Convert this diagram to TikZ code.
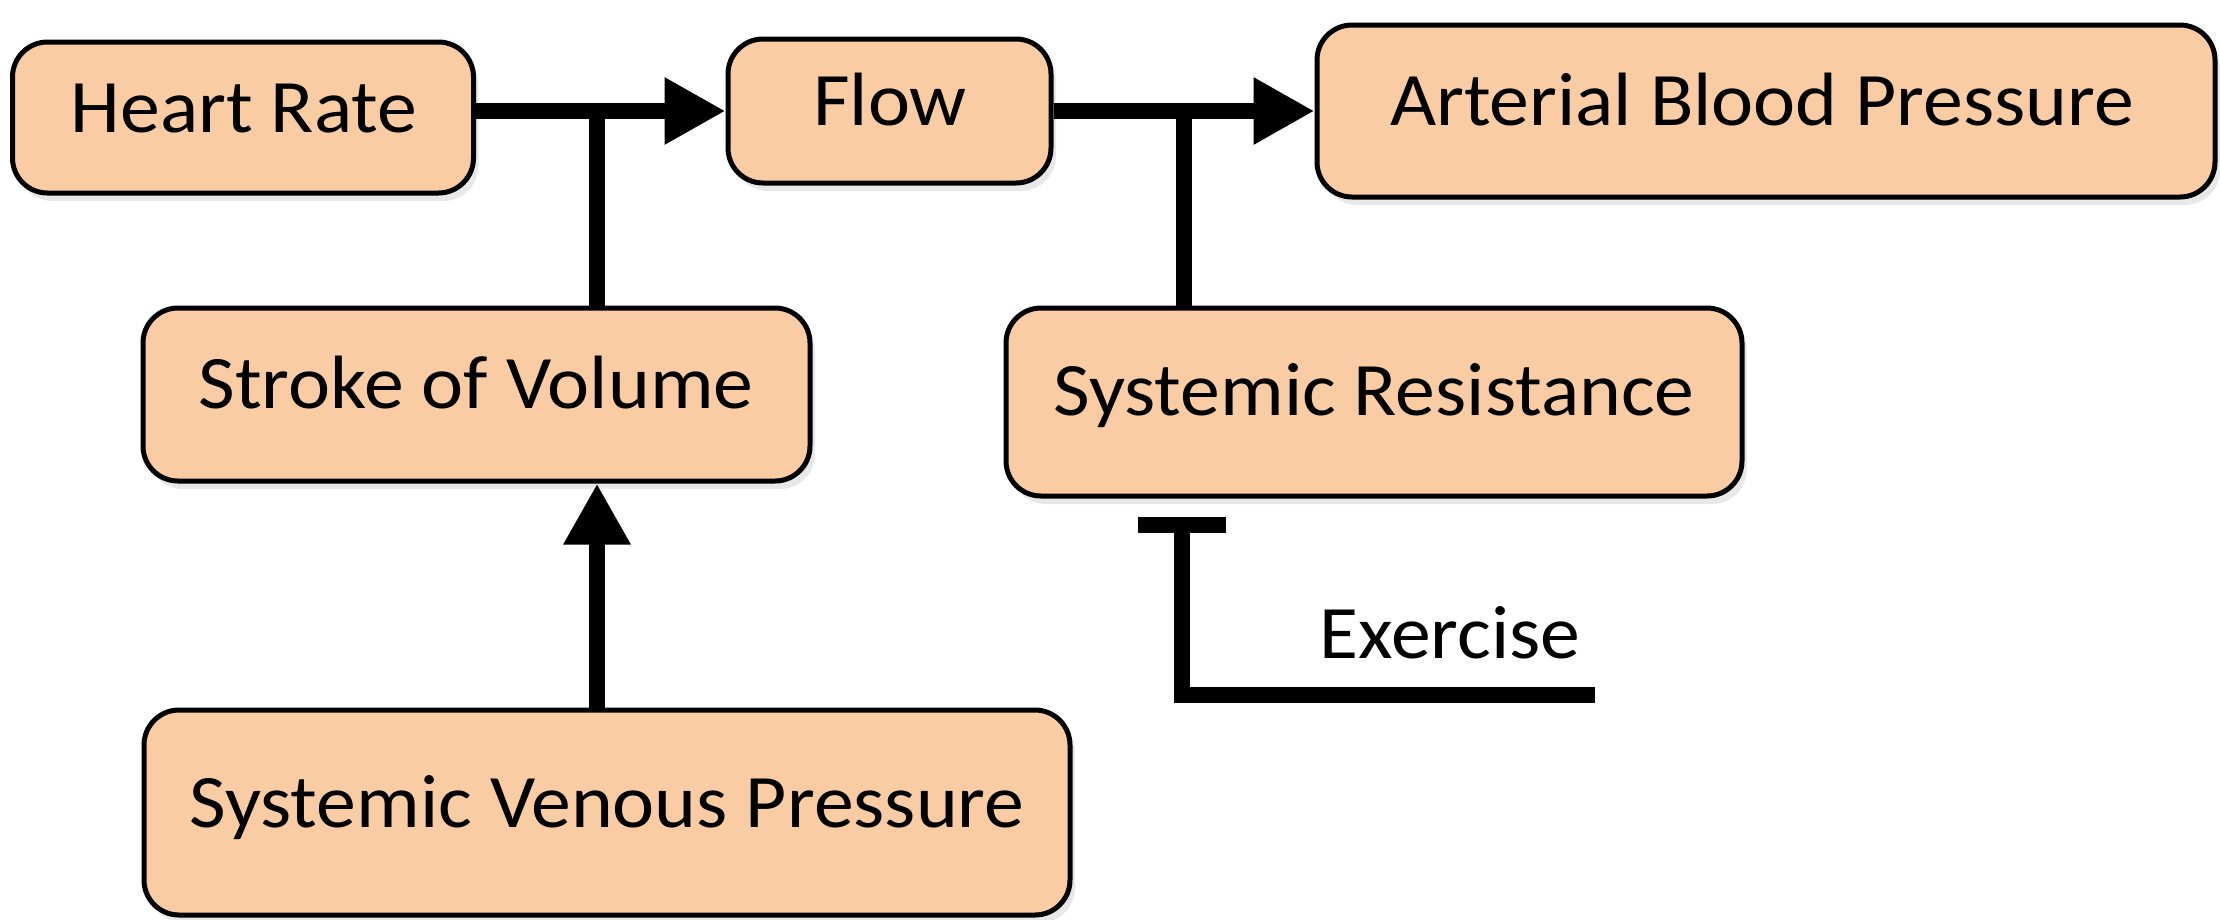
\documentclass[tikz,border=0pt]{standalone}
\usepackage{fontspec}
\setmainfont[FakeStretch=1.055]{Carlito}
\usetikzlibrary{arrows.meta,shadows}
\definecolor{peach}{RGB}{250,204,164}
\begin{document}
\begin{tikzpicture}[x=0.1mm,y=-0.1mm,
  box/.style={draw=black, line width=0.5mm, fill=peach, rounded corners=3.5mm, inner sep=0pt,
    drop shadow={opacity=0.18, shadow xshift=0.5mm, shadow yshift=-0.8mm}},
  lbl/.style={font=\fontsize{21.5}{26}\selectfont, inner sep=0pt, anchor=base},
  conn/.style={line width=1.6mm},
  arr/.style={conn, -{Triangle[length=6.1mm,width=6.3mm]}}]
\useasboundingbox (0,0) rectangle (2220,919);

\node[box, minimum width=46.1mm, minimum height=15.1mm] (hr) at (243,117.5) {};
\node[box, minimum width=32.3mm, minimum height=14.4mm] (flow) at (889.5,111) {};
\node[box, minimum width=89.8mm, minimum height=17.2mm] (abp) at (1766,111) {};
\node[box, minimum width=66.7mm, minimum height=17.3mm] (sov) at (476.5,394.5) {};
\node[box, minimum width=73.6mm, minimum height=18.8mm] (sr) at (1374,402) {};
\node[box, minimum width=92.6mm, minimum height=20.5mm] (svp) at (607,812.5) {};

\node[lbl] (thr) at (244,132) {Heart Rate};
\node[lbl] (tflow) at (890,125) {Flow};
\node[lbl] (tabp) at (1762,125) {Arterial Blood Pressure};
\node[lbl] (tsov) at (476,408) {Stroke of Volume};
\node[lbl] (tsr) at (1374,415) {Systemic Resistance};
\node[lbl] (tsvp) at (607,827) {Systemic Venous Pressure};
\node[lbl] (tex) at (1450,658) {Exercise};

\coordinate (j1) at (597,111);
\coordinate (j2) at (1184,111);
\coordinate (inhb) at (1182,525);
\coordinate (exend) at (1595,695);

\draw[arr] (hr.east |- flow.west) -- (flow.west);
\draw[conn] (j1 |- sov.north) -- (j1);
\draw[arr] (j1 |- svp.north) -- (j1 |- sov.south);
\draw[arr] (flow.east) -- (abp.west);
\draw[conn] (j2 |- sr.north) -- (j2);
\draw[conn] (exend) -| (inhb);
\draw[conn] ([xshift=-4.4mm]inhb) -- ([xshift=4.4mm]inhb);
\end{tikzpicture}
\end{document}
